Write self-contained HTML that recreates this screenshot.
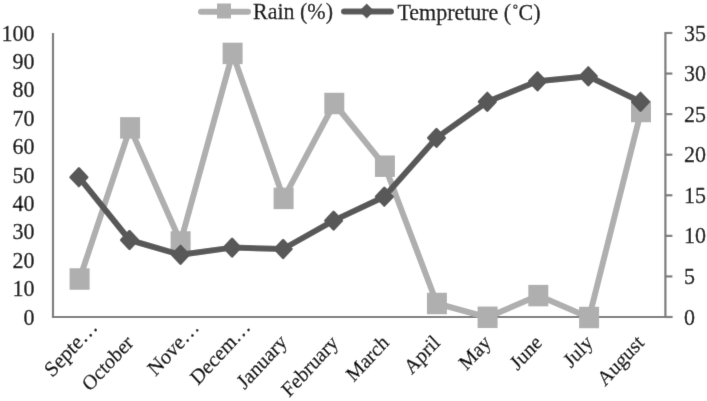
<!DOCTYPE html>
<html><head><meta charset="utf-8"><style>
html,body{margin:0;padding:0;background:#fff;}
svg{display:block;}
svg{will-change:transform;}
text{font-family:"Liberation Serif",serif;font-size:22px;fill:#000;stroke:#000;stroke-width:0.25px;}
text.c{font-size:19.6px;}
text.ct{font-size:20.4px;}
</style></head><body>
<svg width="707" height="401" viewBox="0 0 707 401">
<defs><filter id="bl" x="0" y="0" width="707" height="401" filterUnits="userSpaceOnUse"><feConvolveMatrix order="3" kernelMatrix="0 1 0 1 8 1 0 1 0" edgeMode="duplicate" preserveAlpha="false"/></filter></defs>
<g filter="url(#bl)">
<rect width="707" height="401" fill="#fff"/>
<line x1="53" y1="33" x2="53" y2="318.1" stroke="#7A7A7A" stroke-width="2.2"/>
<line x1="51.9" y1="317" x2="672.4" y2="317" stroke="#7A7A7A" stroke-width="2.2"/>
<line x1="665.4" y1="31.9" x2="665.4" y2="317" stroke="#7A7A7A" stroke-width="2.2"/>
<line x1="665.4" y1="33.00" x2="672.4" y2="33.00" stroke="#7A7A7A" stroke-width="2.2"/>
<line x1="665.4" y1="73.57" x2="672.4" y2="73.57" stroke="#7A7A7A" stroke-width="2.2"/>
<line x1="665.4" y1="114.14" x2="672.4" y2="114.14" stroke="#7A7A7A" stroke-width="2.2"/>
<line x1="665.4" y1="154.71" x2="672.4" y2="154.71" stroke="#7A7A7A" stroke-width="2.2"/>
<line x1="665.4" y1="195.29" x2="672.4" y2="195.29" stroke="#7A7A7A" stroke-width="2.2"/>
<line x1="665.4" y1="235.86" x2="672.4" y2="235.86" stroke="#7A7A7A" stroke-width="2.2"/>
<line x1="665.4" y1="276.43" x2="672.4" y2="276.43" stroke="#7A7A7A" stroke-width="2.2"/>
<line x1="665.4" y1="317.00" x2="672.4" y2="317.00" stroke="#7A7A7A" stroke-width="2.2"/>
<polyline points="79.60,279.00 130.10,127.90 180.60,242.00 232.60,53.40 283.60,198.40 334.30,103.50 384.90,166.20 436.90,303.50 487.60,317.30 538.30,295.60 589.10,317.50 641.00,111.50" fill="none" stroke="#AFAFAF" stroke-width="6.0" stroke-linejoin="round" stroke-linecap="round"/>
<rect x="69.60" y="268.25" width="20" height="21.5" fill="#AFAFAF"/>
<rect x="120.10" y="117.15" width="20" height="21.5" fill="#AFAFAF"/>
<rect x="170.60" y="231.25" width="20" height="21.5" fill="#AFAFAF"/>
<rect x="222.60" y="42.65" width="20" height="21.5" fill="#AFAFAF"/>
<rect x="273.60" y="187.65" width="20" height="21.5" fill="#AFAFAF"/>
<rect x="324.30" y="92.75" width="20" height="21.5" fill="#AFAFAF"/>
<rect x="374.90" y="155.45" width="20" height="21.5" fill="#AFAFAF"/>
<rect x="426.90" y="292.75" width="20" height="21.5" fill="#AFAFAF"/>
<rect x="477.60" y="306.55" width="20" height="21.5" fill="#AFAFAF"/>
<rect x="528.30" y="284.85" width="20" height="21.5" fill="#AFAFAF"/>
<rect x="579.10" y="306.75" width="20" height="21.5" fill="#AFAFAF"/>
<rect x="631.00" y="100.75" width="20" height="21.5" fill="#AFAFAF"/>
<polyline points="78.90,177.20 129.50,240.00 180.50,254.80 232.10,247.60 283.10,249.00 333.60,220.60 384.30,196.70 436.50,137.90 487.30,101.80 537.50,81.30 588.30,76.30 640.50,101.80" fill="none" stroke="#595959" stroke-width="6.0" stroke-linejoin="round" stroke-linecap="round"/>
<path d="M78.90,168.50 L87.10,177.20 L78.90,185.90 L70.70,177.20Z" fill="#595959" stroke="#595959" stroke-width="2.8" stroke-linejoin="round"/>
<path d="M129.50,231.30 L137.70,240.00 L129.50,248.70 L121.30,240.00Z" fill="#595959" stroke="#595959" stroke-width="2.8" stroke-linejoin="round"/>
<path d="M180.50,246.10 L188.70,254.80 L180.50,263.50 L172.30,254.80Z" fill="#595959" stroke="#595959" stroke-width="2.8" stroke-linejoin="round"/>
<path d="M232.10,238.90 L240.30,247.60 L232.10,256.30 L223.90,247.60Z" fill="#595959" stroke="#595959" stroke-width="2.8" stroke-linejoin="round"/>
<path d="M283.10,240.30 L291.30,249.00 L283.10,257.70 L274.90,249.00Z" fill="#595959" stroke="#595959" stroke-width="2.8" stroke-linejoin="round"/>
<path d="M333.60,211.90 L341.80,220.60 L333.60,229.30 L325.40,220.60Z" fill="#595959" stroke="#595959" stroke-width="2.8" stroke-linejoin="round"/>
<path d="M384.30,188.00 L392.50,196.70 L384.30,205.40 L376.10,196.70Z" fill="#595959" stroke="#595959" stroke-width="2.8" stroke-linejoin="round"/>
<path d="M436.50,129.20 L444.70,137.90 L436.50,146.60 L428.30,137.90Z" fill="#595959" stroke="#595959" stroke-width="2.8" stroke-linejoin="round"/>
<path d="M487.30,93.10 L495.50,101.80 L487.30,110.50 L479.10,101.80Z" fill="#595959" stroke="#595959" stroke-width="2.8" stroke-linejoin="round"/>
<path d="M537.50,72.60 L545.70,81.30 L537.50,90.00 L529.30,81.30Z" fill="#595959" stroke="#595959" stroke-width="2.8" stroke-linejoin="round"/>
<path d="M588.30,67.60 L596.50,76.30 L588.30,85.00 L580.10,76.30Z" fill="#595959" stroke="#595959" stroke-width="2.8" stroke-linejoin="round"/>
<path d="M640.50,93.10 L648.70,101.80 L640.50,110.50 L632.30,101.80Z" fill="#595959" stroke="#595959" stroke-width="2.8" stroke-linejoin="round"/>
<text transform="translate(34.5 324.60) scale(1 1.08)" text-anchor="end">0</text>
<text transform="translate(34.5 296.20) scale(1 1.08)" text-anchor="end">10</text>
<text transform="translate(34.5 267.80) scale(1 1.08)" text-anchor="end">20</text>
<text transform="translate(34.5 239.40) scale(1 1.08)" text-anchor="end">30</text>
<text transform="translate(34.5 211.00) scale(1 1.08)" text-anchor="end">40</text>
<text transform="translate(34.5 182.60) scale(1 1.08)" text-anchor="end">50</text>
<text transform="translate(34.5 154.20) scale(1 1.08)" text-anchor="end">60</text>
<text transform="translate(34.5 125.80) scale(1 1.08)" text-anchor="end">70</text>
<text transform="translate(34.5 97.40) scale(1 1.08)" text-anchor="end">80</text>
<text transform="translate(34.5 69.00) scale(1 1.08)" text-anchor="end">90</text>
<text transform="translate(34.5 40.60) scale(1 1.08)" text-anchor="end">100</text>
<text transform="translate(684 324.60) scale(1 1.08)">0</text>
<text transform="translate(684 284.03) scale(1 1.08)">5</text>
<text transform="translate(684 243.46) scale(1 1.08)">10</text>
<text transform="translate(684 202.89) scale(1 1.08)">15</text>
<text transform="translate(684 162.31) scale(1 1.08)">20</text>
<text transform="translate(684 121.74) scale(1 1.08)">25</text>
<text transform="translate(684 81.17) scale(1 1.08)">30</text>
<text transform="translate(684 40.60) scale(1 1.08)">35</text>
<text text-anchor="end" style="font-size:20.4px" transform="translate(98.60 328.20) scale(1 1.08) rotate(-45)">Septe…</text>
<text text-anchor="end" style="font-size:19.6px" transform="translate(134.40 344.00) scale(1 1.08) rotate(-45)">October</text>
<text text-anchor="end" style="font-size:20.0px" transform="translate(200.20 328.60) scale(1 1.08) rotate(-45)">Nove…</text>
<text text-anchor="end" style="font-size:19.8px" transform="translate(251.60 328.20) scale(1 1.08) rotate(-45)">Decem…</text>
<text text-anchor="end" style="font-size:19.8px" transform="translate(288.10 343.30) scale(1 1.08) rotate(-45)">January</text>
<text text-anchor="end" style="font-size:19.6px" transform="translate(339.30 344.00) scale(1 1.08) rotate(-45)">February</text>
<text text-anchor="end" style="font-size:19.6px" transform="translate(390.00 343.80) scale(1 1.08) rotate(-45)">March</text>
<text text-anchor="end" style="font-size:19.6px" transform="translate(441.00 343.80) scale(1 1.08) rotate(-45)">April</text>
<text text-anchor="end" style="font-size:19.6px" transform="translate(492.00 343.80) scale(1 1.08) rotate(-45)">May</text>
<text text-anchor="end" style="font-size:19.6px" transform="translate(543.00 343.80) scale(1 1.08) rotate(-45)">June</text>
<text text-anchor="end" style="font-size:19.6px" transform="translate(594.00 343.80) scale(1 1.08) rotate(-45)">July</text>
<text text-anchor="end" style="font-size:19.6px" transform="translate(645.00 343.80) scale(1 1.08) rotate(-45)">August</text>
<line x1="201" y1="11.7" x2="248" y2="11.7" stroke="#AFAFAF" stroke-width="6.0" stroke-linecap="round"/>
<rect x="217" y="3.5" width="14" height="15" fill="#AFAFAF"/>
<text transform="translate(253 18.6) scale(1 1.08)">Rain (%)</text>
<line x1="344" y1="11.5" x2="391" y2="11.5" stroke="#595959" stroke-width="6.0" stroke-linecap="round"/>
<path d="M366.7,3.5 L374.3,11 L366.7,18.5 L359.1,11Z" fill="#595959"/>
<circle cx="515.4" cy="6.7" r="1.65" fill="none" stroke="#000" stroke-width="1.05"/>
<text transform="translate(397.4 19.8) scale(1 1.08)">Tempreture (<tspan style="fill:none;stroke:none">˚</tspan>C)</text>
</g>
</svg>
</body></html>
